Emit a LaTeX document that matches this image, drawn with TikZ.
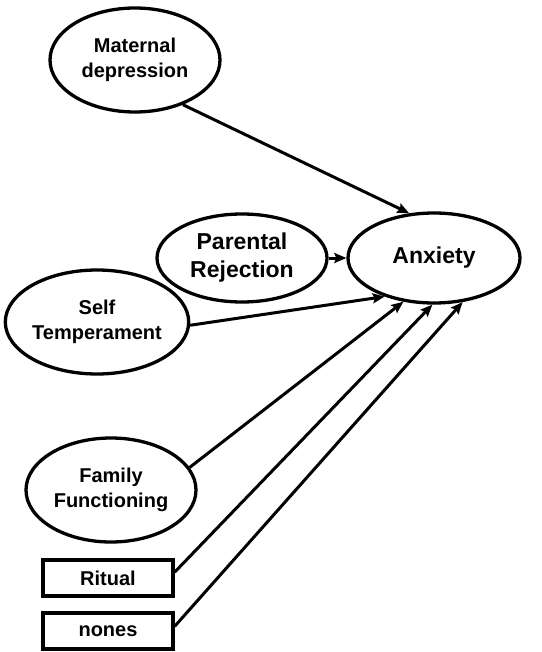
\documentclass[tikz,border=0pt]{standalone}
\usepackage{fontspec}
\setmainfont{Liberation Sans}
\usetikzlibrary{shapes.geometric,arrows.meta}
\begin{document}
\begin{tikzpicture}[x=1pt,y=-1pt,
  latent/.style={ellipse,draw,line width=3.3pt,inner sep=0pt,align=center,
    font=\bfseries\fontsize{20}{25}\selectfont},
  observed/.style={rectangle,draw,line width=3.3pt,inner sep=0pt,align=center,
    minimum width=130pt,minimum height=36pt,font=\bfseries\fontsize{20}{24}\selectfont},
  path/.style={line width=3pt,-{Stealth[length=12pt,width=10pt,inset=2pt]}}]
\useasboundingbox (0,0) rectangle (541,652);

% constructs
\node[latent,minimum width=170pt,minimum height=104pt] (md) at (135,60) {Maternal\\depression};
\node[latent,minimum width=170pt,minimum height=88pt,font=\bfseries\fontsize{23}{28}\selectfont] (pr) at (242,258) {Parental\\Rejection};
\node[latent,minimum width=172pt,minimum height=90pt,font=\bfseries\fontsize{23}{28}\selectfont] (anx) at (434,258) {Anxiety};
\node[latent,minimum width=170pt,minimum height=104pt] (st) at (97,322) {Self\\Temperament};
\node[latent,minimum width=170pt,minimum height=104pt] (ff) at (111,490) {Family\\Functioning};
\node[observed] (rit) at (108,578) {Ritual};
\node[observed] (nn) at (108,631) {nones};

% paths into Anxiety
\draw[path] (md.317) -- (anx.119);
\draw[path] (pr.east) -- (anx.west);
\draw[path] (st.358) -- (anx.218);
\draw[path] (ff.16) -- (anx.235);
\draw[path] (rit.5) -- (anx.268);
\draw[path] (nn.4) -- (anx.303);
\end{tikzpicture}
\end{document}
